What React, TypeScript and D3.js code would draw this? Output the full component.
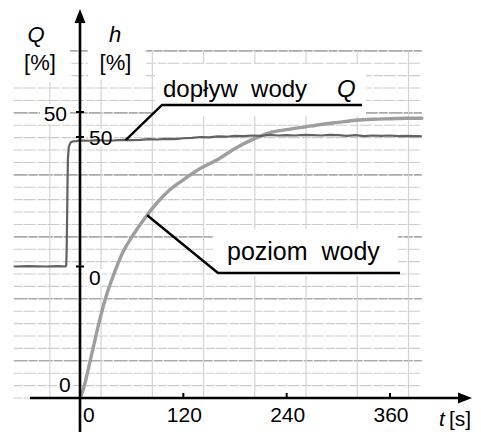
import { useMemo } from "react";
import * as d3 from "d3";

// recorder trace: inflow Q (step) and water level h
const qTimes = [
  -77, -60, -40, -25, -17, -16, -15.5, -15, -14.5, -14,
  -13, -11, -8, -4, 0, 10, 20, 30, 40, 50,
  60, 70, 80, 90, 100, 110, 120, 130, 140, 150,
  160, 170, 180, 190, 200, 210, 220, 230, 240, 250,
  260, 270, 280, 290, 300, 310, 320, 330, 340, 350,
  360, 370, 380, 390, 397,
];
const qValues = [
  0, 0.1, 0, 0.1, 0, 0.3, 5, 15, 27, 35,
  38.8, 40.1, 40.5, 40.6, 40.8, 40.7, 40.9, 40.7, 40.8, 41.0,
  40.9, 41.0, 41.2, 41.1, 41.3, 41.2, 41.5, 41.6, 41.9, 41.8,
  42.1, 42.0, 42.3, 42.2, 42.4, 42.3, 42.6, 42.4, 42.5, 42.4,
  42.6, 42.5, 42.4, 42.6, 42.5, 42.3, 42.5, 42.2, 42.4, 42.3,
  42.4, 42.2, 42.3, 42.2, 42.1,
];

const hTimes = [0, 3, 6, 10, 15, 20, 30, 40, 50, 60, 75, 90, 105, 120, 140, 160, 180, 200, 220, 240, 260, 280, 300, 320, 340, 360, 380, 397];
const hValues = [0, 1.2, 3.0, 5.8, 9.4, 13, 19.3, 24, 28, 30.8, 34.4, 37.5, 40, 41.8, 44, 45.7, 47.8, 49.5, 50.8, 51.4, 51.9, 52.4, 52.8, 53.2, 53.4, 53.5, 53.6, 53.6];

const timeTicks = [0, 120, 240, 360];
const paperTimes = [-35, 24.5, 84, 143.5, 203, 262.5, 322, 381.5];
const paperRows = d3.range(29);

const FONT = "'Liberation Sans', Arial, sans-serif";

export default function App() {
  const width = 481;
  const height = 432;

  const x = d3.scaleLinear().domain([0, 360]).range([80, 390]);
  const hScale = d3.scaleLinear().domain([0, 50]).range([398, 137]);
  const qScale = d3.scaleLinear().domain([0, 50]).range([266.5, 112]);
  const paperY = d3.scaleLinear().domain([0, 28]).range([hScale(0), hScale(66.5)]);

  const qData = useMemo(() => d3.zip(qTimes, qValues), []);
  const hData = useMemo(() => d3.zip(hTimes, hValues), []);

  const qLine = d3
    .line<number[]>()
    .x((d) => x(d[0]))
    .y((d) => qScale(d[1]));
  const hLine = d3
    .line<number[]>()
    .x((d) => x(d[0]))
    .y((d) => hScale(d[1]))
    .curve(d3.curveMonotoneX);

  const paperLeft = x(-77);
  const paperRight = x(397);

  // leader anchors on the traces
  const qAnchor = [x(53), qScale(40.9)];
  const hT = 78;
  const hAnchor = [x(hT), hScale(d3.scaleLinear().domain(hTimes).range(hValues)(hT))];

  return (
    <svg
      width={width}
      height={height}
      style={{ position: "absolute", left: 0, top: 0, background: "#fff" }}
      fontFamily={FONT}
    >
      {/* graph paper */}
      <g>
        {paperRows.map((k) => {
          const dark = (28 - k) % 5 === 0;
          return (
            <line
              key={"r" + k}
              x1={paperLeft}
              x2={paperRight}
              y1={paperY(k)}
              y2={paperY(k)}
              stroke={dark ? "#ababab" : "#cbcbcb"}
              strokeWidth={dark ? 1.6 : 1.1}
              strokeDasharray={dark ? "14 1 9 1" : "9 1 12 2"}
            />
          );
        })}
        {paperTimes.map((t) => (
          <line
            key={"c" + t}
            x1={x(t)}
            x2={x(t)}
            y1={paperY(28)}
            y2={paperY(0)}
            stroke="#d4d4d4"
            strokeWidth={1.2}
          />
        ))}
      </g>

      {/* white patches under labels */}
      <g fill="#fff">
        <rect x={0} y={0} width={70} height={82} />
        <rect x={88} y={0} width={58} height={80} />
        <rect x={155} y={64} width={211} height={52} />
        <rect x={213} y={229} width={185} height={47} />
        <rect x={40} y={104} width={30} height={20} />
        <rect x={88} y={129} width={26} height={17} />
        <rect x={87} y={269} width={15} height={18} />
        <rect x={57} y={375} width={16} height={19} />
      </g>

      {/* traces */}
      <path d={hLine(hData) ?? ""} fill="none" stroke="#9e9e9e" strokeWidth={3.4} strokeLinecap="round" />
      <path d={qLine(qData) ?? ""} fill="none" stroke="#626262" strokeWidth={2.2} strokeLinejoin="round" />

      {/* axes */}
      <g stroke="#000" strokeWidth={2.6}>
        <line x1={30} x2={462} y1={hScale(0)} y2={hScale(0)} />
        <line x1={x(0)} x2={x(0)} y1={20} y2={height} />
        {timeTicks.slice(1).map((t) => (
          <line key={t} x1={x(t)} x2={x(t)} y1={hScale(0) - 5} y2={hScale(0)} strokeWidth={2} />
        ))}
        <line x1={76} x2={84} y1={qScale(50)} y2={qScale(50)} strokeWidth={2} />
        <line x1={76} x2={84} y1={qScale(0)} y2={qScale(0)} strokeWidth={2} />
        <line x1={76} x2={84} y1={hScale(50)} y2={hScale(50)} strokeWidth={2} />
      </g>
      <path d={`M${x(0)},9 L${x(0) - 5.5},23 L${x(0) + 5.5},23 Z`} fill="#000" />
      <path d={`M472,${hScale(0)} L458,${hScale(0) - 5.5} L458,${hScale(0) + 5.5} Z`} fill="#000" />

      {/* tick labels */}
      <g fontSize={21} fill="#000">
        {timeTicks.map((t) => (
          <text key={t} x={t === 0 ? x(t) + 3 : x(t) + 1} y={422} textAnchor={t === 0 ? "start" : "middle"}>
            {t}
          </text>
        ))}
        <text x={67} y={121} textAnchor="end">50</text>
        <text x={89} y={145}>50</text>
        <text x={89} y={285}>0</text>
        <text x={59} y={392}>0</text>
      </g>

      {/* axis titles */}
      <g fontSize={22} fill="#000">
        <text x={36} y={42} textAnchor="middle" fontStyle="italic">Q</text>
        <text x={40} y={70} textAnchor="middle">[%]</text>
        <text x={115} y={42} textAnchor="middle" fontStyle="italic">h</text>
        <text x={115.5} y={70} textAnchor="middle">[%]</text>
      </g>
      <g fontSize={21} fill="#000">
        <text x={439} y={426} fontStyle="italic">t</text>
        <text x={449} y={426}>[s]</text>
      </g>

      {/* annotations */}
      <g stroke="#000" strokeWidth={2.4} fill="none">
        <polyline points={`${qAnchor[0]},${qAnchor[1]} 162,105 362,105`} />
        <polyline points={`${hAnchor[0]},${hAnchor[1]} 218,273 400,273`} />
      </g>
      <g fontSize={24} fill="#000">
        <text x={163} y={97} style={{ whiteSpace: "pre" }}>dopływ  wody</text>
        <text x={337} y={97} fontStyle="italic">Q</text>
        <text x={227} y={260} fontSize={25} style={{ whiteSpace: "pre" }}>poziom  wody</text>
      </g>
    </svg>
  );
}
